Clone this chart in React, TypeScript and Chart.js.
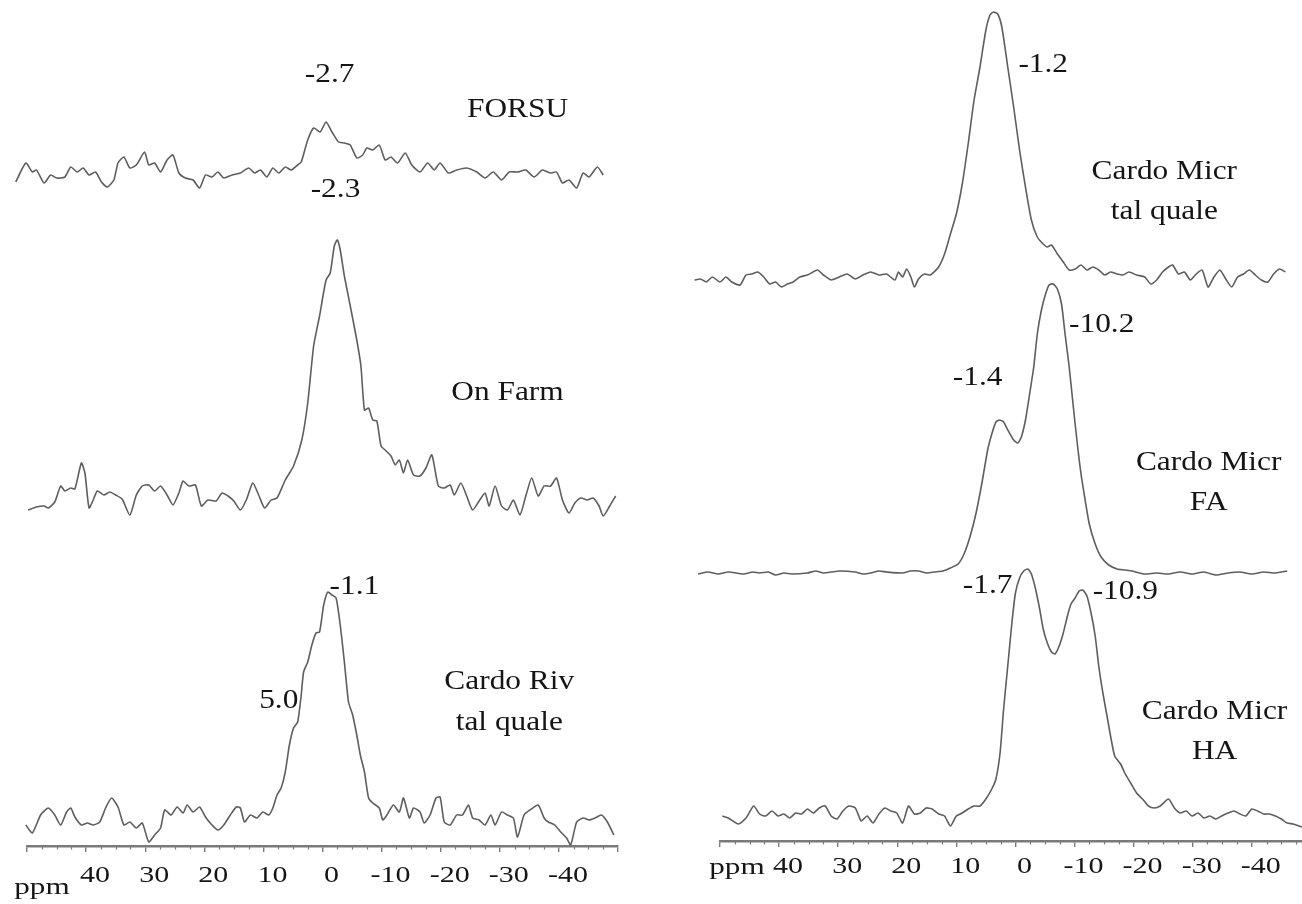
import React, { useEffect, useRef } from "react";
import { Chart, registerables } from "chart.js";

Chart.register(...registerables);

const FONT = '"Liberation Serif", "Times New Roman", serif';
const LINE_COLOR = "#5e5e5e";
const AXIS_COLOR = "#7a7a7a";
const TEXT_COLOR = "#151515";

// ---------- tick labels of the ppm axis ----------
const ppmMajorTicks = [50, 40, 30, 20, 10, 0, -10, -20, -30, -40, -50];
const ppmLabelledTicks = [40, 30, 20, 10, 0, -10, -20, -30, -40];

// ---------- spectra: [ppm, intensity] pairs ----------
const forsuSpectrum: [number, number][] = [
  [51.9, -2], [50.2, 17], [49.1, 8], [48.4, 10], [47.1, -3], [46.0, 5], [45.0, 2], [43.6, 3], [42.6, 13], [41.5, 8],
  [40.5, 12], [39.5, 5], [38.4, 8], [37.4, -2], [36.4, -7], [35.3, 0], [34.6, 17], [33.6, 23], [32.6, 12], [31.5, 15],
  [30.1, 28], [29.4, 15], [28.4, 17], [27.4, 8], [26.3, 20], [25.3, 25], [24.3, 7], [23.2, 2], [21.9, 0], [20.8, -8],
  [19.8, 5], [18.7, 3], [17.7, 8], [16.7, 2], [15.3, 5], [13.9, 7], [12.5, 12], [11.5, 7], [10.5, 10], [9.4, 3],
  [8.4, 12], [7.4, 7], [6.3, 13], [5.3, 10], [4.2, 15], [3.6, 18], [2.5, 40], [1.5, 52], [0.4, 48], [-0.6, 58],
  [-1.6, 48], [-2.7, 38], [-3.7, 37], [-4.7, 35], [-5.8, 22], [-6.8, 25], [-7.5, 32], [-8.5, 30], [-9.6, 35], [-10.6, 20],
  [-11.6, 23], [-12.7, 17], [-14.0, 27], [-15.1, 15], [-16.5, 8], [-17.8, 17], [-18.9, 10], [-19.9, 17], [-21.3, 7], [-22.7, 10],
  [-24.4, 12], [-26.1, 8], [-27.5, 2], [-28.9, 8], [-30.3, 0], [-31.6, 8], [-33.0, 8], [-34.4, 10], [-35.8, 3], [-37.2, 10],
  [-38.6, 7], [-39.6, 8], [-40.6, -3], [-41.7, 0], [-43.0, -8], [-44.1, 7], [-45.1, 3], [-46.5, 13], [-47.5, 5],
];

const onFarmSpectrum: [number, number][] = [
  [49.8, -7], [48.4, -4], [47.1, -3], [46.4, -5], [45.3, 1], [44.3, 17], [43.6, 12], [42.6, 15], [41.9, 14], [40.8, 40],
  [40.2, 30], [39.5, -5], [38.8, 3], [38.1, 12], [37.0, 8], [36.0, 11], [35.0, 8], [33.9, 4], [32.6, -12], [31.5, 8],
  [30.5, 17], [29.4, 18], [28.4, 12], [27.4, 17], [26.3, 8], [25.3, -2], [24.3, 10], [23.6, 22], [22.6, 17], [21.5, 18],
  [20.5, -3], [19.4, 3], [18.0, 2], [17.0, 10], [16.0, 7], [15.0, 2], [13.9, -7], [12.9, 3], [11.8, 20], [10.8, 8],
  [9.8, -5], [8.7, 3], [7.7, 5], [6.3, 23], [4.9, 37], [3.5, 63], [2.5, 100], [1.5, 157], [0.5, 187], [-0.6, 223],
  [-1.3, 230], [-2.0, 257], [-2.5, 263], [-3.0, 253], [-3.7, 227], [-4.7, 197], [-5.8, 163], [-6.5, 137], [-7.1, 93], [-7.8, 95],
  [-8.5, 83], [-9.2, 82], [-9.9, 57], [-10.6, 53], [-11.6, 47], [-12.3, 38], [-13.0, 43], [-13.7, 30], [-14.4, 43], [-15.4, 28],
  [-16.5, 27], [-17.5, 35], [-18.5, 48], [-19.6, 17], [-20.6, 15], [-21.6, 18], [-22.3, 8], [-23.4, 20], [-24.4, 7], [-25.4, -7],
  [-26.5, 2], [-27.5, 10], [-28.2, -3], [-29.2, 17], [-30.3, -3], [-31.3, -7], [-32.3, 3], [-33.4, -12], [-34.4, 7], [-35.4, 25],
  [-36.5, 7], [-37.5, 17], [-38.6, 17], [-39.6, 25], [-40.6, 3], [-41.7, -10], [-42.7, 0], [-43.7, 5], [-44.8, 3], [-45.8, 5],
  [-46.8, -3], [-47.5, -13], [-48.6, -3], [-49.6, 7],
];

const cardoRivSpectrum: [number, number][] = [
  [50.2, 0], [49.1, -8], [47.7, 10], [46.4, 17], [45.3, 10], [44.3, 0], [43.3, 13], [42.6, 17], [41.9, 8], [40.8, 0],
  [39.8, 2], [38.8, 0], [37.7, 3], [36.7, 17], [35.7, 27], [34.6, 18], [33.6, 0], [32.6, 3], [31.5, -3], [30.5, 2],
  [29.4, -17], [28.4, -10], [27.4, -3], [26.7, 15], [25.6, 10], [24.6, 18], [23.6, 12], [22.9, 20], [21.9, 13], [20.8, 18],
  [19.8, 8], [18.7, 0], [17.7, -5], [16.7, 0], [15.6, 10], [14.6, 18], [13.9, 17], [13.2, 3], [12.2, 10], [11.1, 7],
  [10.1, 13], [9.1, 10], [8.4, 17], [7.7, 30], [7.0, 37], [6.3, 53], [5.6, 80], [4.9, 97], [4.2, 103], [3.6, 130],
  [3.2, 153], [2.5, 163], [1.8, 180], [1.1, 192], [0.5, 193], [-0.2, 220], [-0.9, 233], [-1.6, 230], [-2.3, 227], [-3.0, 200],
  [-3.7, 163], [-4.4, 123], [-5.1, 110], [-5.8, 90], [-6.4, 70], [-7.1, 53], [-7.8, 27], [-8.5, 22], [-9.6, 17], [-10.2, 5],
  [-10.9, 10], [-12.0, 20], [-13.0, 13], [-13.7, 27], [-14.7, 7], [-15.4, 17], [-16.5, 13], [-17.2, 2], [-18.2, 10], [-19.2, 27],
  [-19.9, 28], [-20.6, 3], [-21.6, 0], [-22.7, 10], [-23.7, 10], [-24.7, 20], [-25.4, 7], [-26.5, 5], [-27.5, 0], [-28.5, 10],
  [-29.2, 0], [-30.3, 13], [-31.3, 10], [-32.3, 7], [-33.0, -12], [-34.1, 10], [-35.1, 15], [-36.5, 20], [-37.5, 7], [-38.2, 3],
  [-39.3, 0], [-40.3, -7], [-41.3, -13], [-42.0, -20], [-43.0, 3], [-44.1, 7], [-45.1, 5], [-46.1, 7], [-47.2, 10], [-48.2, 3],
  [-49.3, -10],
];

const micrTalQualeSpectrum: [number, number][] = [
  [54.3, -3], [53.3, -2], [52.3, -5], [51.3, 0], [50.0, -5], [49.0, 0], [48.0, -5], [46.6, -8], [45.6, 2], [44.6, 3],
  [43.6, 5], [42.6, 0], [41.6, -7], [40.6, -5], [39.6, -10], [38.6, -7], [37.6, -5], [36.5, 0], [35.2, 2], [33.5, 7],
  [32.5, 2], [31.2, -3], [29.8, 0], [28.5, 3], [27.1, -2], [25.8, 2], [24.5, 5], [23.1, 2], [21.8, 3], [20.4, -3],
  [19.8, 5], [19.1, 0], [18.4, 8], [17.7, 0], [17.1, -10], [16.4, -2], [15.4, 3], [14.4, 2], [13.0, 10], [12.0, 23],
  [11.0, 43], [10.0, 63], [9.0, 93], [8.0, 133], [7.0, 177], [6.0, 210], [5.0, 247], [4.3, 262], [3.7, 265], [3.0, 263],
  [2.3, 250], [1.3, 210], [0.3, 170], [-0.7, 127], [-1.7, 90], [-2.7, 57], [-3.7, 40], [-4.7, 33], [-5.4, 30], [-6.1, 32],
  [-7.1, 23], [-8.1, 15], [-9.1, 7], [-10.1, 8], [-11.1, 12], [-12.1, 7], [-13.1, 10], [-14.1, 7], [-15.1, 2], [-16.1, 5],
  [-17.2, 3], [-18.2, 2], [-19.2, 5], [-20.5, 2], [-21.9, 0], [-22.9, -7], [-23.9, -3], [-24.9, 5], [-25.9, 10], [-26.6, 12],
  [-27.6, 3], [-28.6, 5], [-29.6, -3], [-30.6, 3], [-31.6, 7], [-32.6, -10], [-33.6, 0], [-34.6, 7], [-35.6, -2], [-36.6, -10],
  [-37.6, 0], [-38.6, 3], [-39.6, 7], [-40.6, 2], [-41.6, -3], [-42.7, -5], [-43.7, 3], [-44.7, 8], [-45.7, 5],
];

const micrFASpectrum: [number, number][] = [
  [53.7, -1], [52.0, 1], [50.3, -1], [48.6, 1], [46.0, -1], [44.5, 1], [43.3, 0], [41.8, 1], [40.6, -2], [39.2, 0],
  [37.9, -1], [35.2, 0], [33.8, 2], [32.5, 0], [31.1, 1], [29.8, 2], [27.1, 1], [25.8, -1], [24.5, 0], [23.1, 2],
  [21.8, 1], [19.1, 0], [17.8, 2], [16.4, 2], [15.0, 0], [13.7, 1], [12.3, 2], [11.0, 5], [9.7, 9], [8.7, 19],
  [7.7, 36], [6.7, 59], [5.7, 89], [4.7, 123], [4.0, 139], [3.3, 151], [2.7, 153], [2.0, 151], [1.3, 143], [0.3, 133],
  [-0.4, 130], [-1.0, 136], [-1.7, 153], [-2.4, 179], [-3.1, 206], [-3.7, 239], [-4.4, 263], [-5.1, 279], [-5.7, 288], [-6.4, 289],
  [-7.1, 284], [-7.8, 269], [-8.4, 239], [-9.1, 206], [-9.8, 166], [-10.4, 133], [-11.1, 99], [-11.8, 73], [-12.5, 49], [-13.5, 29],
  [-14.5, 16], [-15.8, 8], [-17.2, 4], [-18.5, 3], [-19.8, 2], [-21.8, -1], [-23.9, 0], [-25.9, -1], [-27.9, 1], [-29.9, -1],
  [-31.9, 1], [-33.9, -2], [-36.0, 0], [-38.0, 1], [-40.0, -1], [-42.0, 1], [-44.0, 0], [-46.0, 2],
];

const micrHASpectrum: [number, number][] = [
  [49.6, 0], [48.6, -2], [46.9, -8], [45.6, -2], [44.3, 10], [43.3, 2], [42.3, 0], [41.2, 5], [40.2, 0], [39.2, 2],
  [38.2, -2], [37.2, 3], [36.2, 2], [35.2, 7], [34.2, 3], [33.2, 8], [32.2, 10], [31.2, 0], [30.2, -3], [29.2, 5],
  [28.2, 10], [27.1, 8], [26.1, -5], [25.1, 0], [24.1, -7], [23.1, 2], [22.1, 8], [21.1, 5], [20.1, 3], [19.1, -7],
  [18.1, 10], [17.1, 2], [16.1, 3], [15.1, 8], [14.1, 7], [13.0, 2], [12.0, 0], [11.0, -10], [10.0, 0], [9.0, 3],
  [8.0, 7], [7.0, 10], [6.0, 10], [5.0, 17], [4.0, 27], [3.3, 37], [2.6, 63], [2.0, 107], [1.3, 150], [0.6, 193],
  [0.0, 223], [-0.7, 238], [-1.4, 245], [-2.1, 247], [-2.7, 242], [-3.4, 227], [-4.1, 207], [-4.7, 187], [-5.4, 173], [-6.1, 164],
  [-6.7, 162], [-7.4, 170], [-8.1, 183], [-8.8, 200], [-9.4, 212], [-10.1, 218], [-10.8, 225], [-11.4, 226], [-12.1, 220], [-12.8, 203],
  [-13.5, 180], [-14.1, 150], [-14.8, 123], [-15.5, 100], [-16.1, 80], [-16.8, 60], [-17.8, 52], [-18.5, 43], [-19.5, 33], [-20.5, 23],
  [-21.5, 17], [-22.5, 10], [-23.5, 8], [-24.5, 10], [-25.9, 17], [-26.9, 8], [-27.9, 3], [-28.9, 5], [-29.9, 0], [-30.9, 3],
  [-31.9, -2], [-32.9, 0], [-33.9, -3], [-34.9, 0], [-36.0, 3], [-37.0, 5], [-38.0, 2], [-39.0, 0], [-40.0, 7], [-41.0, 5],
  [-42.0, 2], [-43.0, 2], [-44.0, 0], [-45.0, -3], [-46.0, -7], [-47.0, -8], [-48.0, -10], [-48.5, -11],
];

// ---------- text annotations, anchored in (ppm, intensity) of their spectrum ----------
type Note = { text: string; ppm: number; intensity: number; spectrum: number };

const leftNotes: Note[] = [
  { text: "-2.7", ppm: -1.2, intensity: 105, spectrum: 0 },
  { text: "FORSU", ppm: -33.0, intensity: 70, spectrum: 0 },
  { text: "-2.3", ppm: -2.2, intensity: 313, spectrum: 1 },
  { text: "On Farm", ppm: -31.3, intensity: 110, spectrum: 1 },
  { text: "-1.1", ppm: -5.4, intensity: 238, spectrum: 2 },
  { text: "5.0", ppm: 7.4, intensity: 124, spectrum: 2 },
  { text: "Cardo Riv", ppm: -31.6, intensity: 143, spectrum: 2 },
  { text: "tal quale", ppm: -31.6, intensity: 102, spectrum: 2 },
];

const rightNotes: Note[] = [
  { text: "-1.2", ppm: -4.7, intensity: 212, spectrum: 0 },
  { text: "Cardo Micr", ppm: -25.2, intensity: 105, spectrum: 0 },
  { text: "tal quale", ppm: -25.2, intensity: 65, spectrum: 0 },
  { text: "-10.2", ppm: -14.6, intensity: 248, spectrum: 1 },
  { text: "-1.4", ppm: 6.4, intensity: 195, spectrum: 1 },
  { text: "Cardo Micr", ppm: -32.7, intensity: 110, spectrum: 1 },
  { text: "FA", ppm: -32.7, intensity: 70, spectrum: 1 },
  { text: "-1.7", ppm: 4.7, intensity: 230, spectrum: 2 },
  { text: "-10.9", ppm: -18.6, intensity: 224, spectrum: 2 },
  { text: "Cardo Micr", ppm: -33.7, intensity: 104, spectrum: 2 },
  { text: "HA", ppm: -33.7, intensity: 64, spectrum: 2 },
];

// ---------- layout ----------
type PanelCfg = {
  canvasLeft: number;
  canvasWidth: number;
  padLeft: number;
  padRight: number;
  axisY: number;
  xMin: number;
  xMax: number;
  baselines: number[];
  spectra: [number, number][][];
  notes: Note[];
  labelBaseline: number;
  ppmX: number;
  ppmBaseline: number;
};

const HEIGHT = 904;

const leftPanel: PanelCfg = {
  canvasLeft: 0,
  canvasWidth: 650,
  padLeft: 27,
  padRight: 32,
  axisY: 846,
  xMin: -50,
  xMax: 50,
  baselines: [180, 503, 825],
  spectra: [forsuSpectrum, onFarmSpectrum, cardoRivSpectrum],
  notes: leftNotes,
  labelBaseline: 882,
  ppmX: 42,
  ppmBaseline: 894,
};

const rightPanel: PanelCfg = {
  canvasLeft: 650,
  canvasWidth: 652,
  padLeft: 70,
  padRight: 0,
  axisY: 841,
  xMin: -48.5,
  xMax: 50,
  baselines: [277, 573, 816],
  spectra: [micrTalQualeSpectrum, micrFASpectrum, micrHASpectrum],
  notes: rightNotes,
  labelBaseline: 873,
  ppmX: 87,
  ppmBaseline: 874,
};

function drawStretched(ctx: CanvasRenderingContext2D, text: string, x: number, y: number, sx: number) {
  ctx.save();
  ctx.translate(x, y);
  ctx.scale(sx, 1);
  ctx.fillText(text, 0, 0);
  ctx.restore();
}

function buildChart(canvas: HTMLCanvasElement, cfg: PanelCfg) {
  const datasets = cfg.spectra.map((pts, i) => ({
    data: pts.map(([x, y]) => ({ x, y })),
    yAxisID: "y" + i,
    borderColor: LINE_COLOR,
    borderWidth: 1.6,
    pointRadius: 0,
    tension: 0.2,
    fill: false,
    clip: false as any,
  }));

  const scales: any = {
    x: {
      type: "linear",
      reverse: true,
      min: cfg.xMin,
      max: cfg.xMax,
      ticks: { stepSize: 10, display: false },
      afterBuildTicks: (s: any) => {
        s.ticks = ppmMajorTicks.filter((v) => v >= s.min && v <= s.max).map((v) => ({ value: v }));
      },
      grid: {
        display: true,
        drawOnChartArea: false,
        drawTicks: true,
        tickLength: 6,
        color: AXIS_COLOR,
        lineWidth: 1.4,
      },
      border: { display: true, color: AXIS_COLOR, width: 2.6 },
      afterFit: (s: any) => {
        s.height = HEIGHT - cfg.axisY;
      },
    },
  };
  cfg.baselines.forEach((b, i) => {
    scales["y" + i] = { type: "linear", display: false, min: b - cfg.axisY, max: b };
  });

  const decor = {
    id: "decor",
    afterDraw(chart: any) {
      const ctx: CanvasRenderingContext2D = chart.ctx;
      const xs = chart.scales.x;
      const bottom = chart.chartArea.bottom;
      ctx.save();
      // minor ticks every 2.5 ppm
      ctx.strokeStyle = AXIS_COLOR;
      ctx.lineWidth = 1.2;
      const start = Math.ceil(xs.min / 2.5) * 2.5;
      for (let v = start; v <= xs.max + 1e-6; v += 2.5) {
        if (Math.abs(v % 10) < 1e-6) continue;
        const px = Math.round(xs.getPixelForValue(v)) + 0.5;
        ctx.beginPath();
        ctx.moveTo(px, bottom);
        ctx.lineTo(px, bottom + 3.5);
        ctx.stroke();
      }
      // tick labels
      ctx.fillStyle = TEXT_COLOR;
      ctx.textAlign = "center";
      ctx.textBaseline = "alphabetic";
      ctx.font = `24px ${FONT}`;
      for (const v of ppmLabelledTicks) {
        const px = xs.getPixelForValue(v) + 9;
        drawStretched(ctx, String(v), px, cfg.labelBaseline, 1.25);
      }
      drawStretched(ctx, "ppm", cfg.ppmX, cfg.ppmBaseline, 1.3);
      // annotations
      ctx.textBaseline = "middle";
      ctx.font = `28px ${FONT}`;
      for (const n of cfg.notes) {
        const ys = chart.scales["y" + n.spectrum];
        const px = xs.getPixelForValue(n.ppm);
        const py = ys.getPixelForValue(n.intensity);
        drawStretched(ctx, n.text, px, py, 1.12);
      }
      ctx.restore();
    },
  };

  return new Chart(canvas, {
    type: "line",
    data: { datasets },
    options: {
      responsive: false,
      animation: false,
      parsing: false as any,
      normalized: true,
      layout: { padding: { left: cfg.padLeft, right: cfg.padRight, top: 0, bottom: 0 } },
      plugins: { legend: { display: false }, tooltip: { enabled: false } },
      events: [],
      scales,
    } as any,
    plugins: [decor],
  });
}

function Panel({ cfg }: { cfg: PanelCfg }) {
  const ref = useRef<HTMLCanvasElement>(null);
  useEffect(() => {
    const chart = buildChart(ref.current as HTMLCanvasElement, cfg);
    return () => chart.destroy();
  }, [cfg]);
  return (
    <canvas
      ref={ref}
      width={cfg.canvasWidth}
      height={HEIGHT}
      style={{ position: "absolute", left: cfg.canvasLeft, top: 0, width: cfg.canvasWidth, height: HEIGHT }}
    />
  );
}

export default function App() {
  return (
    <div style={{ position: "absolute", left: 0, top: 0, width: 1302, height: HEIGHT, background: "#ffffff", overflow: "hidden" }}>
      <Panel cfg={leftPanel} />
      <Panel cfg={rightPanel} />
    </div>
  );
}
